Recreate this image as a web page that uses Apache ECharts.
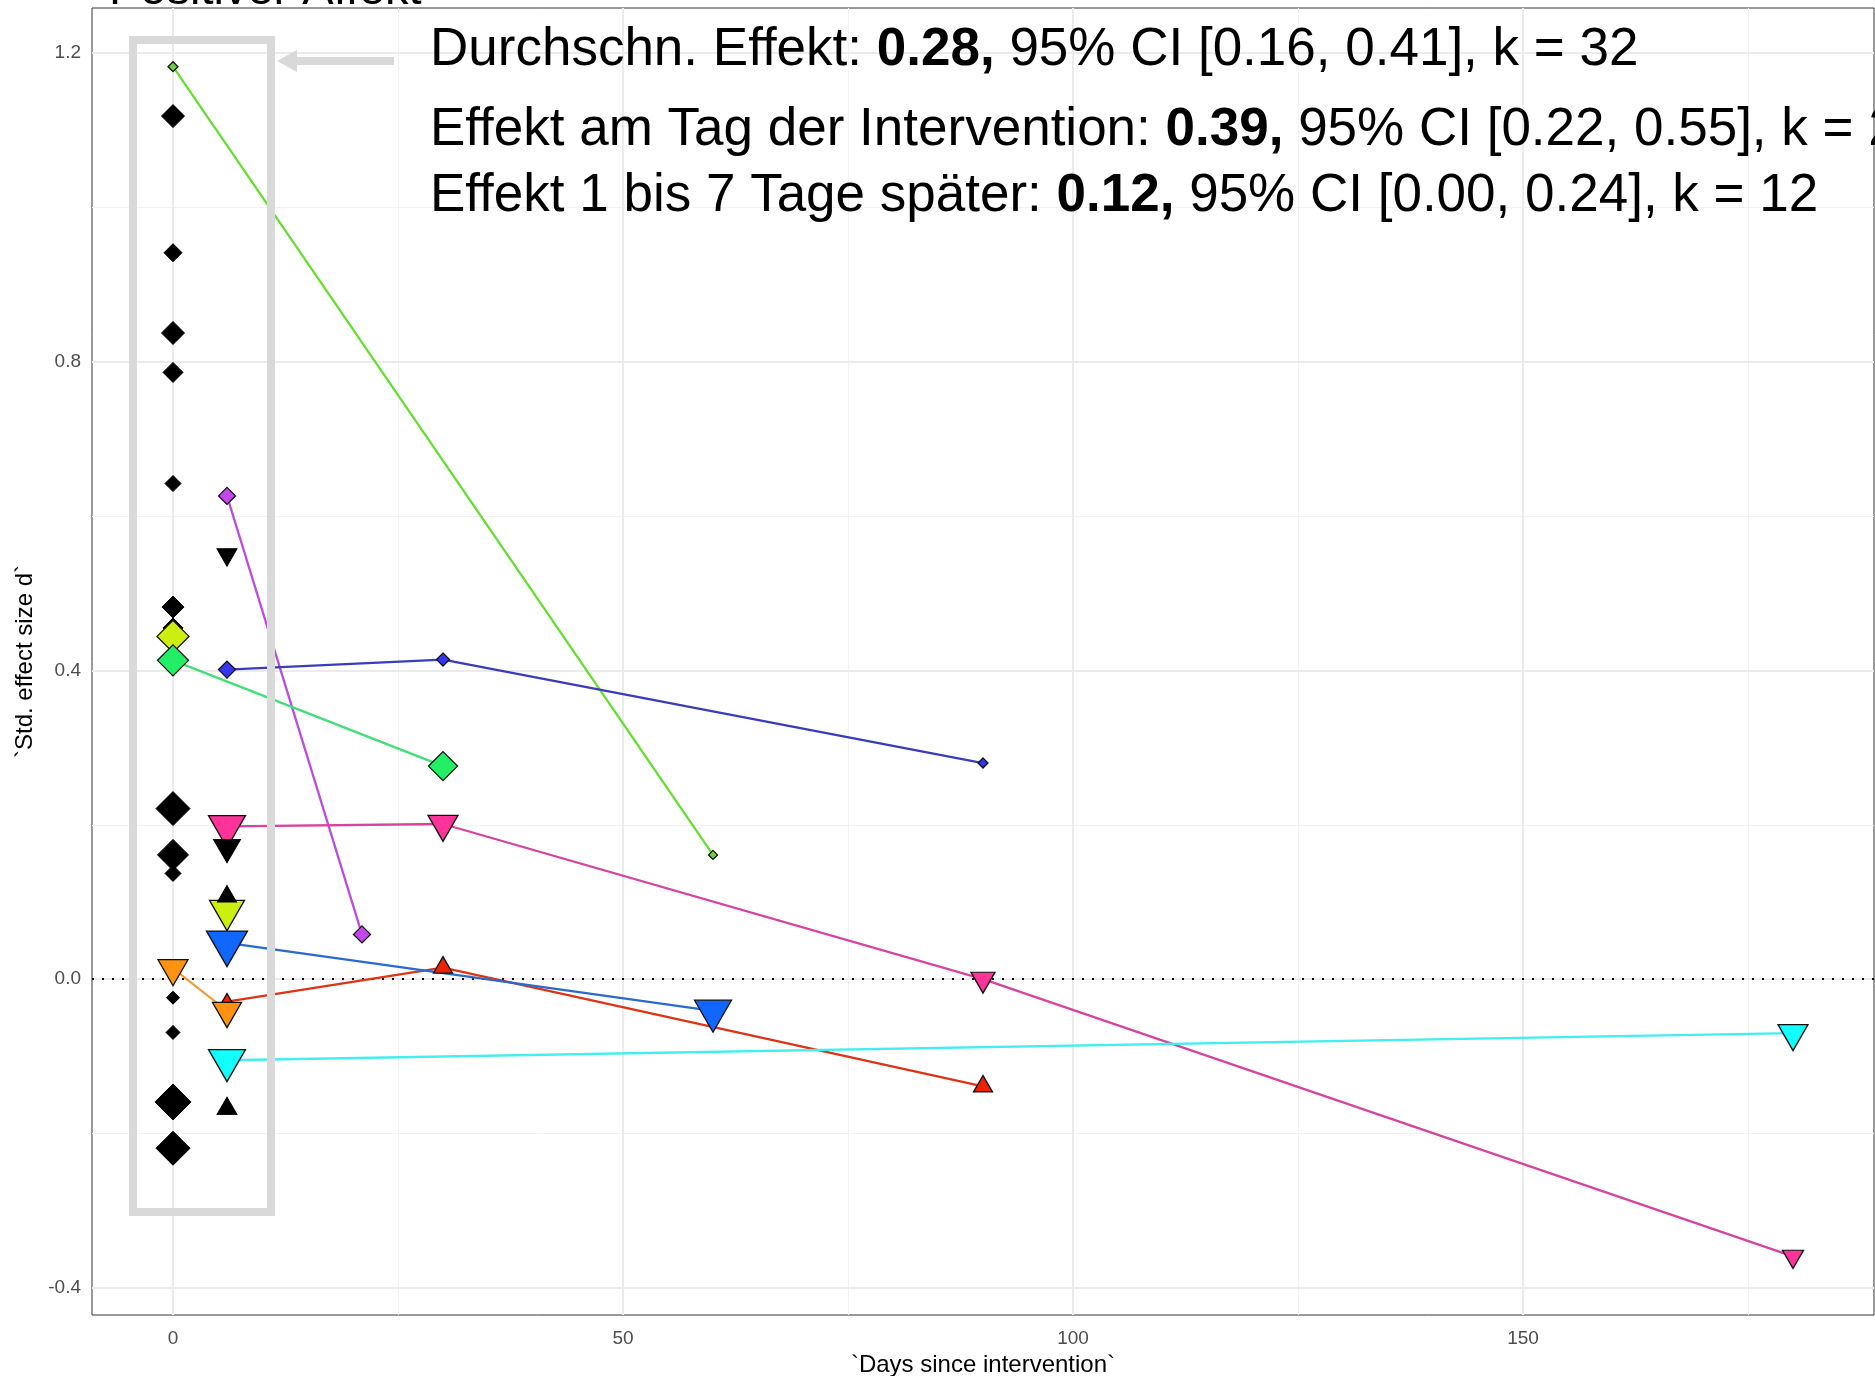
<!DOCTYPE html>
<html><head><meta charset="utf-8">
<script src="https://cdn.jsdelivr.net/npm/echarts@6/dist/echarts.min.js"></script>
<style>html,body{margin:0;padding:0;background:#fff}#c{width:1875px;height:1376px}</style>
</head><body><div id="c"></div>
<script>
// ---------- axes ----------
const xTicks = [0, 50, 100, 150];
const xMinor = [25, 75, 125, 175];
const yTicks = [-0.4, 0, 0.4, 0.8, 1.2];
const yMinor = [-0.2, 0.2, 0.6, 1.0];
const xLimits = [-9, 189];
const yLimits = [-0.435, 1.258];

// ---------- single-timepoint studies (black) ----------
const blackDiamondY = [1.118, 0.941, 0.837, 0.786, 0.642, 0.482, 0.455, 0.221, 0.161, 0.137, -0.024, -0.069, -0.159, -0.219];
const blackDiamondX = [0, 0, 0, 0, 0, 0, 0, 0, 0, 0, 0, 0, 0, 0];
const blackDiamondW = [2.3, 1.8, 2.3, 2.0, 1.6, 2.2, 2.0, 3.4, 3.1, 1.6, 1.3, 1.4, 3.6, 3.4];
const blackTriX = [6, 6, 6, 6];
const blackTriY = [0.550, 0.171, 0.107, -0.168];
const blackTriW = [2.0, 2.7, 1.9, 2.0];
const blackTriShape = ['v', 'v', '^', '^'];

// ---------- multi-timepoint studies ----------
const lightGreenX = [0, 60];
const lightGreenY = [1.182, 0.161];
const lightGreenW = [1.0, 0.9];
const lightGreenShape = ['d', 'd'];

const purpleX = [6, 21];
const purpleY = [0.626, 0.058];
const purpleW = [1.7, 1.7];
const purpleShape = ['d', 'd'];

const indigoX = [6, 30, 90];
const indigoY = [0.401, 0.414, 0.280];
const indigoW = [1.7, 1.3, 1.0];
const indigoShape = ['d', 'd', 'd'];

const yellowX = [0, 6];
const yellowY = [0.444, 0.089];
const yellowW = [3.2, 3.5];
const yellowShape = ['d', 'v'];

const springGreenX = [0, 30];
const springGreenY = [0.413, 0.276];
const springGreenW = [3.1, 2.9];
const springGreenShape = ['d', 'd'];

const pinkX = [6, 30, 90, 180];
const pinkY = [0.198, 0.201, 0.000, -0.359];
const pinkW = [3.7, 3.0, 2.4, 2.1];
const pinkShape = ['v', 'v', 'v', 'v'];

const redX = [6, 30, 90];
const redY = [-0.029, 0.015, -0.139];
const redW = [1.4, 1.9, 1.9];
const redShape = ['^', '^', '^'];

const orangeX = [0, 6];
const orangeY = [0.014, -0.041];
const orangeW = [3.0, 2.9];
const orangeShape = ['v', 'v'];

const blueX = [6, 60];
const blueY = [0.047, -0.041];
const blueW = [4.1, 3.7];
const blueShape = ['v', 'v'];

const cyanX = [6, 180];
const cyanY = [-0.105, -0.070];
const cyanW = [3.7, 3.0];
const cyanShape = ['v', 'v'];

// ---------- texts ----------
const titleText = 'Positiver Affekt';
const annotLines = [
  ['Durchschn. Effekt: ', '0.28,', ' 95% CI [0.16, 0.41], k = 32'],
  ['Effekt am Tag der Intervention: ', '0.39,', ' 95% CI [0.22, 0.55], k = 20'],
  ['Effekt 1 bis 7 Tage später: ', '0.12,', ' 95% CI [0.00, 0.24], k = 12']
];
const xTitle = '`Days since intervention`';
const yTitle = '`Std. effect size d`';

// ---------- build ----------
const FONT = "'Liberation Sans', Arial, Helvetica, sans-serif";
const SIZE_SCALE = 10;
const DOWN = 'path://M0,0L2,0L1,1.732Z';

function markerItem(x, y, w, shape, fill) {
  const width = w * SIZE_SCALE;
  const base = { value: [x, y], itemStyle: { color: fill, opacity: 1 } };
  if (shape === 'd') return Object.assign(base, { symbol: 'diamond', symbolSize: [width, width] });
  const h = width * 0.866;
  if (shape === '^') return Object.assign(base, { symbol: 'triangle', symbolSize: [width, h], symbolOffset: [0, -h / 6] });
  return Object.assign(base, { symbol: DOWN, symbolSize: [width, h], symbolOffset: [0, h / 6] });
}
function pairs(xs, ys) { return xs.map((x, i) => [x, ys[i]]); }

const studies = [
  { name: 'lightGreen', x: lightGreenX, y: lightGreenY, w: lightGreenW, s: lightGreenShape, fill: '#6fd040', line: '#66dd33', drawLine: true },
  { name: 'purple', x: purpleX, y: purpleY, w: purpleW, s: purpleShape, fill: '#c447ee', line: '#b94fd8', drawLine: true },
  { name: 'indigo', x: indigoX, y: indigoY, w: indigoW, s: indigoShape, fill: '#3636ee', line: '#3b3bbb', drawLine: true },
  { name: 'yellow', x: yellowX, y: yellowY, w: yellowW, s: yellowShape, fill: '#ccee11', line: '#ccee11', drawLine: false },
  { name: 'springGreen', x: springGreenX, y: springGreenY, w: springGreenW, s: springGreenShape, fill: '#22ee66', line: '#44dd77', drawLine: true },
  { name: 'pink', x: pinkX, y: pinkY, w: pinkW, s: pinkShape, fill: '#ff3399', line: '#d6449f', drawLine: true },
  { name: 'red', x: redX, y: redY, w: redW, s: redShape, fill: '#ee2200', line: '#dd3316', drawLine: true },
  { name: 'orange', x: orangeX, y: orangeY, w: orangeW, s: orangeShape, fill: '#ff9311', line: '#eea040', drawLine: true },
  { name: 'blue', x: blueX, y: blueY, w: blueW, s: blueShape, fill: '#1166ff', line: '#2a6acc', drawLine: true },
  { name: 'cyan', x: cyanX, y: cyanY, w: cyanW, s: cyanShape, fill: '#11ffff', line: '#44eeee', drawLine: true }
];

const series = [];
// grid lines + zero line
series.push({
  type: 'line', data: [], z: 1, silent: true, animation: false,
  markLine: {
    z: 1, silent: true, symbol: 'none', animation: false, label: { show: false },
    data: [
      ...xMinor.map(v => ({ xAxis: v, lineStyle: { color: '#f2f2f2', width: 1, type: 'solid' } })),
      ...yMinor.map(v => ({ yAxis: v, lineStyle: { color: '#f2f2f2', width: 1, type: 'solid' } })),
      ...xTicks.map(v => ({ xAxis: v, lineStyle: { color: '#ebebeb', width: 2, type: 'solid' } })),
      ...yTicks.map(v => ({ yAxis: v, lineStyle: { color: '#ebebeb', width: 2, type: 'solid' } }))
    ]
  }
});
series.push({
  type: 'line', data: [], z: 2, silent: true, animation: false,
  markLine: {
    z: 2, silent: true, symbol: 'none', animation: false, label: { show: false },
    data: [{ yAxis: 0, lineStyle: { color: '#000', width: 2, type: [2, 8] } }]
  }
});
// study lines
studies.filter(s => s.drawLine).forEach(s => {
  series.push({
    type: 'line', name: s.name + '-line', data: pairs(s.x, s.y), symbol: 'none', z: 10,
    lineStyle: { color: s.line, width: 2.3 }, animation: false, silent: true
  });
});
// black diamonds (under coloured markers)
series.push({
  type: 'scatter', name: 'black-d', z: 20, animation: false, silent: true,
  itemStyle: { borderColor: '#000', borderWidth: 1, opacity: 1 },
  data: blackDiamondX.map((x, i) => markerItem(x, blackDiamondY[i], blackDiamondW[i], 'd', '#000'))
});
// coloured markers
studies.forEach(s => {
  series.push({
    type: 'scatter', name: s.name, z: 20, animation: false, silent: true,
    itemStyle: { borderColor: '#111', borderWidth: 1.3, opacity: 1 },
    data: s.x.map((x, i) => markerItem(x, s.y[i], s.w[i], s.s[i], s.fill))
  });
});
// black triangles (on top)
series.push({
  type: 'scatter', name: 'black-t', z: 20, animation: false, silent: true,
  itemStyle: { borderColor: '#000', borderWidth: 1, opacity: 1 },
  data: blackTriX.map((x, i) => markerItem(x, blackTriY[i], blackTriW[i], blackTriShape[i], '#000'))
});

const annotFont = 53;
const graphic = [
  { type: 'text', x: 109, y: 5.5 - 0.81 * 47, z: 100, silent: true,
    style: { text: titleText, fontSize: 47, fontFamily: FONT, fill: '#000', verticalAlign: 'top' } },
  // highlight box
  { type: 'rect', z: 100, silent: true, shape: { x: 133, y: 40, width: 138, height: 1172 },
    style: { fill: 'none', stroke: '#d9d9d9', lineWidth: 8 } },
  // arrow
  { type: 'rect', z: 100, silent: true, shape: { x: 294, y: 57, width: 100, height: 8 }, style: { fill: '#d9d9d9' } },
  { type: 'polygon', z: 100, silent: true, shape: { points: [[277, 61], [297, 50], [297, 72]] }, style: { fill: '#d9d9d9' } }
];
const lineTops = [67, 147, 213];
annotLines.forEach((parts, i) => {
  graphic.push({
    type: 'text', x: 430, y: lineTops[i] - 0.81 * annotFont, z: 101, silent: true,
    style: {
      text: parts[0] + '{b|' + parts[1] + '}' + parts[2],
      fontSize: annotFont, fontFamily: FONT, fill: '#000', verticalAlign: 'top',
      rich: { b: { fontSize: annotFont, fontFamily: FONT, fontWeight: 'bold', fill: '#000' } }
    }
  });
});

const axisLabelStyle = { fontSize: 19, color: '#4d4d4d', fontFamily: FONT };
const option = {
  backgroundColor: '#fff',
  animation: false,
  grid: { left: 92, right: 1, top: 8, bottom: 61, containLabel: false, outerBoundsMode: 'none',
          show: true, borderColor: '#333', borderWidth: 1, backgroundColor: 'transparent' },
  xAxis: {
    type: 'value', min: xLimits[0], max: xLimits[1],
    name: xTitle, nameLocation: 'middle', nameGap: 27,
    nameTextStyle: { fontSize: 24, color: '#000', fontFamily: FONT },
    axisLine: { show: false },
    axisTick: { show: true, length: 5, lineStyle: { color: '#333', width: 2 }, customValues: xTicks },
    axisLabel: { ...axisLabelStyle, margin: 14, customValues: xTicks, formatter: v => String(v) },
    splitLine: { show: false }
  },
  yAxis: {
    type: 'value', min: yLimits[0], max: yLimits[1],
    name: yTitle, nameLocation: 'middle', nameGap: 50, nameRotate: 90,
    nameTextStyle: { fontSize: 24, color: '#000', fontFamily: FONT },
    axisLine: { show: false },
    axisTick: { show: true, length: 5, lineStyle: { color: '#333', width: 2 }, customValues: yTicks },
    axisLabel: { ...axisLabelStyle, margin: 11, customValues: yTicks, formatter: v => v.toFixed(1) },
    splitLine: { show: false }
  },
  series: series,
  graphic: graphic
};
const chart = echarts.init(document.getElementById('c'), null, { renderer: 'canvas' });
chart.setOption(option);
</script></body></html>
